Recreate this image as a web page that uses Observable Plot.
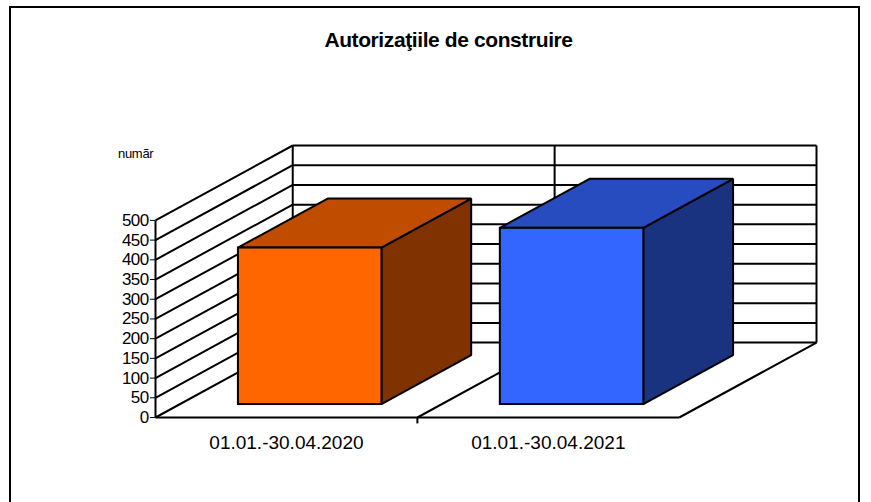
<!DOCTYPE html>
<html>
<head>
<meta charset="utf-8">
<script src="https://cdn.jsdelivr.net/npm/d3@7"></script>
<script src="https://cdn.jsdelivr.net/npm/@observablehq/plot@0.6"></script>
<style>
  html, body { margin: 0; padding: 0; background: #fff; }
  #wrap { position: relative; width: 871px; height: 502px; overflow: hidden; font-family: "Liberation Sans", Arial, sans-serif; }
  #border { position: absolute; left: 9px; top: 6px; width: 851px; height: 540px; border: 2px solid #000; box-sizing: border-box; }
  #title { position: absolute; left: 0; width: 897px; top: 29px; text-align: center; font-weight: bold; font-size: 21px; line-height: 1; letter-spacing: -0.4px; color: #000; white-space: nowrap; }
  #ylab { position: absolute; left: 118px; top: 147px; font-size: 13px; line-height: 1; letter-spacing: -0.3px; color: #000; }
  #chart { position: absolute; left: 0; top: 0; }
  #chart svg g[aria-label="y-axis"] text, #chart svg g[aria-label="y-axis tick label"] text { letter-spacing: -0.6px; }
</style>
</head>
<body>
<div id="wrap">
  <div id="border"></div>
  <div id="title">Autorizaţiile de construire</div>
  <div id="ylab">numãr</div>
  <div id="chart"></div>
</div>
<script>
// ---- data ----
const categories = ["01.01.-30.04.2020", "01.01.-30.04.2021"];
const values = [397, 447];
const yTicks = [0, 50, 100, 150, 200, 250, 300, 350, 400, 450, 500];
const yMax = 500;

// ---- styles ----
const frontColors = ["#FF6600", "#3366FF"];
const topColors = ["#C04C00", "#264CBF"];
const sideColors = ["#803300", "#1A3380"];

// ---- oblique 3D projection parameters (in data units) ----
const DX = 0.524;   // depth offset along x (category units)
const DY = 190;     // depth offset along y (value units)
const T1 = 0.173, T2 = 0.827; // bar depth extent (fraction of floor depth)
const HW = 0.274;   // bar half width (category units)
const n = categories.length;

const lineStyle = {stroke: "black", strokeWidth: 2};

const marks = [];
// back wall
marks.push(Plot.rect([0], {x1: () => DX, x2: () => n + DX, y1: () => DY, y2: () => yMax + DY, fill: "white"}));
marks.push(Plot.link(yTicks, {x1: () => DX, x2: () => n + DX, y1: d => d + DY, y2: d => d + DY, ...lineStyle}));
marks.push(Plot.link(d3.range(n + 1), {x1: i => i + DX, x2: i => i + DX, y1: () => DY, y2: () => yMax + DY, ...lineStyle}));
// side wall gridlines
marks.push(Plot.link(yTicks, {x1: () => 0, y1: d => d, x2: () => DX, y2: d => d + DY, ...lineStyle}));
// front value axis line
marks.push(Plot.link([0], {x1: () => 0, x2: () => 0, y1: () => 0, y2: () => yMax, ...lineStyle}));
// floor
marks.push(Plot.link([0], {x1: () => 0, x2: () => n, y1: () => 0, y2: () => 0, ...lineStyle}));
marks.push(Plot.link(d3.range(1, n + 1), {x1: i => i, y1: () => 0, x2: i => i + DX, y2: () => DY, ...lineStyle}));
// category tick
marks.push(Plot.link(d3.range(1, n), {x1: i => i, x2: i => i, y1: () => 0, y2: () => -15, ...lineStyle}));

// bars
values.forEach((val, i) => {
  const u0 = i + 0.5 - HW + T1 * DX;
  const u1 = i + 0.5 + HW + T1 * DX;
  const v0 = T1 * DY;
  const ddx = (T2 - T1) * DX, ddy = (T2 - T1) * DY;
  const side = [{x: u1, y1: v0, y2: v0 + val}, {x: u1 + ddx, y1: v0 + ddy, y2: v0 + ddy + val}];
  const top = [{y: v0 + val, x1: u0, x2: u1}, {y: v0 + ddy + val, x1: u0 + ddx, x2: u1 + ddx}];
  marks.push(Plot.areaY(side, {x: "x", y1: "y1", y2: "y2", fill: sideColors[i], ...lineStyle, strokeLinejoin: "miter"}));
  marks.push(Plot.areaX(top, {y: "y", x1: "x1", x2: "x2", fill: topColors[i], ...lineStyle, strokeLinejoin: "miter"}));
  marks.push(Plot.rect([val], {x1: () => u0, x2: () => u1, y1: () => v0, y2: d => v0 + d, fill: frontColors[i], ...lineStyle}));
});

// category labels
marks.push(Plot.text(categories, {x: (d, i) => i + 0.5, y: () => 0, dy: 25, text: d => d, fontSize: 19, fill: "black"}));

const chart = Plot.plot({
  width: 871,
  height: 502,
  marginLeft: 155,
  marginRight: 55,
  marginTop: 145,
  marginBottom: 85,
  x: {domain: [0, n + DX], axis: null},
  y: {domain: [0, yMax + DY], ticks: yTicks, tickSize: 5, tickPadding: 2, label: null, tickFormat: d => String(d)},
  style: {fontFamily: "'Liberation Sans', Arial, sans-serif", fontSize: "17px", color: "black", background: "transparent", overflow: "visible"},
  marks
});
document.getElementById("chart").appendChild(chart);
</script>
</body>
</html>
